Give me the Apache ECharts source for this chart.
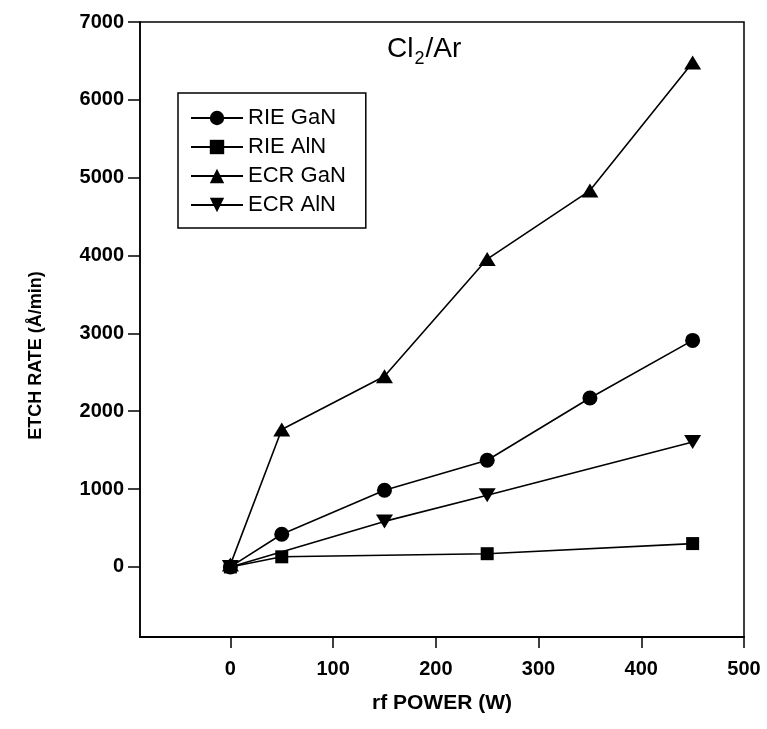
<!DOCTYPE html>
<html>
<head>
<meta charset="utf-8">
<script src="https://cdn.jsdelivr.net/npm/echarts@6/dist/echarts.min.js"></script>
<style>html,body{margin:0;padding:0;background:#fff}#c{width:767px;height:729px}</style>
</head>
<body>
<div id="c"></div>
<script>
var xTicks = [0, 100, 200, 300, 400, 500];
var yTicks = [0, 1000, 2000, 3000, 4000, 5000, 6000, 7000];

var rieGaNX = [0, 50, 150, 250, 350, 450];
var rieGaNY = [0, 420, 985, 1370, 2170, 2910];

var rieAlNX = [0, 50, 250, 450];
var rieAlNY = [0, 130, 170, 300];

var ecrGaNX = [0, 50, 150, 250, 350, 450];
var ecrGaNY = [30, 1765, 2450, 3955, 4835, 6480];

var ecrAlNX = [0, 150, 250, 450];
var ecrAlNY = [0, 585, 920, 1605];

function pairs(xs, ys) { return xs.map(function (x, i) { return [x, ys[i]]; }); }

var FONT = '"Liberation Sans", Arial, Helvetica, sans-serif';
var downTri = 'path://M0,0 L10,0 L5,8.5 Z';
var upTri = 'path://M5,0 L10,8.5 L0,8.5 Z';

function ser(name, xs, ys, symbol, size) {
  return {
    name: name, type: 'line', data: pairs(xs, ys),
    symbol: symbol, symbolSize: size, showAllSymbol: true,
    lineStyle: { color: '#000', width: 1.6 },
    itemStyle: { color: '#000' },
    emphasis: { disabled: true },
    animation: false
  };
}
function plain(v) { return String(v); }

var chart = echarts.init(document.getElementById('c'), null, { renderer: 'canvas' });
chart.setOption({
  backgroundColor: '#fff',
  animation: false,
  title: {
    text: '{a|Cl}{b|2}{a|/Ar}',
    left: 382, top: 30,
    textStyle: {
      fontWeight: 'normal',
      rich: {
        a: { fontFamily: FONT, fontSize: 28, fontWeight: 'normal', color: '#000', lineHeight: 32, verticalAlign: 'top' },
        b: { fontFamily: FONT, fontSize: 18, fontWeight: 'normal', color: '#000', lineHeight: 18, verticalAlign: 'top', padding: [15, 1, 0, 1] }
      }
    }
  },
  grid: {
    left: 140, right: 23, top: 22, bottom: 92,
    show: true, borderColor: '#000', borderWidth: 1.5, backgroundColor: 'transparent'
  },
  legend: {
    orient: 'vertical', left: 178, top: 93,
    backgroundColor: '#fff', borderColor: '#000', borderWidth: 1.5,
    padding: [14, 20, 12, 12],
    itemWidth: 52, itemHeight: 18, itemGap: 7,
    textStyle: { fontFamily: FONT, fontSize: 22, color: '#000', lineHeight: 22 },
    data: ['RIE GaN', 'RIE AlN', 'ECR GaN', 'ECR AlN']
  },
  xAxis: {
    type: 'value', min: -88, max: 500,
    name: 'rf POWER (W)', nameLocation: 'middle', nameGap: 56,
    nameTextStyle: { fontFamily: FONT, fontSize: 21, fontWeight: 'bold', color: '#000' },
    axisLine: { show: true, onZero: false, lineStyle: { color: '#000', width: 2 } },
    axisTick: { show: true, length: 11, inside: false, customValues: xTicks, lineStyle: { color: '#000', width: 1.5 } },
    axisLabel: { customValues: xTicks, formatter: plain, margin: 22, fontFamily: FONT, fontSize: 20, fontWeight: 'bold', color: '#000' },
    splitLine: { show: false }
  },
  yAxis: {
    type: 'value', min: -900, max: 7000,
    name: 'ETCH RATE (Å/min)', nameLocation: 'middle', nameGap: 95,
    nameTextStyle: { fontFamily: FONT, fontSize: 18, fontWeight: 'bold', color: '#000', padding: [0, 52, 0, 0] },
    axisLine: { show: true, onZero: false, lineStyle: { color: '#000', width: 1.5 } },
    axisTick: { show: true, length: 12, inside: false, customValues: yTicks, lineStyle: { color: '#000', width: 1.5 } },
    axisLabel: { customValues: yTicks, formatter: plain, margin: 16, fontFamily: FONT, fontSize: 20, fontWeight: 'bold', color: '#000' },
    splitLine: { show: false }
  },
  series: [
    ser('RIE GaN', rieGaNX, rieGaNY, 'circle', 15),
    ser('RIE AlN', rieAlNX, rieAlNY, 'rect', 13),
    ser('ECR GaN', ecrGaNX, ecrGaNY, upTri, [17, 14]),
    ser('ECR AlN', ecrAlNX, ecrAlNY, downTri, [17, 14])
  ]
});
</script>
</body>
</html>
